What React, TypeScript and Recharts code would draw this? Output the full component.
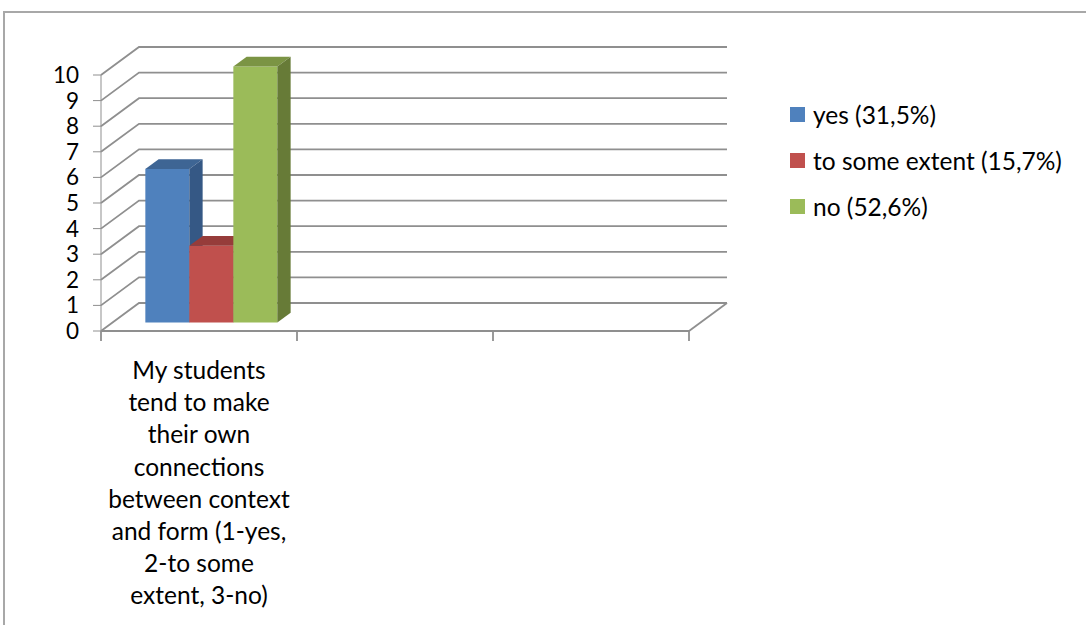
import { BarChart, Bar, XAxis, YAxis, CartesianGrid, Legend } from "recharts";

// category label lines (as wrapped in the original)
const categoryLines: string[][] = [
  [
    "My students",
    "tend to make",
    "their own",
    "connections",
    "between context",
    "and form (1-yes,",
    "2-to some",
    "extent, 3-no)",
  ],
  [],
  [],
];
const seriesNames = ["yes (31,5%)", "to some extent (15,7%)", "no (52,6%)"];
const yesValues = [6, null, null];
const someValues = [3, null, null];
const noValues = [10, null, null];
const yTicks = [0, 1, 2, 3, 4, 5, 6, 7, 8, 9, 10];

const data = categoryLines.map((lines, i) => ({
  idx: i,
  name: lines.join(" "),
  yes: yesValues[i],
  some: someValues[i],
  no: noValues[i],
}));

const W = 1086;
const H = 625;
const MARGIN = { top: 75, right: 397, bottom: 0, left: 41 };
const X_AXIS_H = 294;
const PLOT_BOTTOM = H - MARGIN.bottom - X_AXIS_H;

// depth of the 3d walls and of the bars
const DX = 38;
const DY = -28;
const BX = 12;
const BY = -8.5;
const SX = 13.3;
const SY = -9.7;

const GRID = "#8f8f8f";
const FONT = 24.5;

const GridLine = (props: any) => {
  const { x1, x2, y1 } = props;
  const floor = Math.abs(y1 - PLOT_BOTTOM) < 1;
  const n = categoryLines.length;
  const edges = Array.from({ length: n + 1 }, (_, i) => x1 + (i * (x2 - x1)) / n);
  return (
    <g key={props.key}>
      <polyline
        points={`${x1},${y1} ${x1 + DX},${y1 + DY} ${x2 + DX},${y1 + DY}`}
        fill="none"
        stroke={GRID}
        strokeWidth={1.8}
      />
      {floor && (
        <g>
          <line x1={x1} y1={y1} x2={x2} y2={y1} stroke={GRID} strokeWidth={1.8} />
          <line x1={x2} y1={y1} x2={x2 + DX} y2={y1 + DY} stroke={GRID} strokeWidth={1.8} />
          {edges.map((ex) => (
            <line key={ex} x1={ex} y1={y1} x2={ex} y2={y1 + 10} stroke={GRID} strokeWidth={1.8} />
          ))}
        </g>
      )}
    </g>
  );
};

const Bar3D = (props: any) => {
  const { x, y, width, height, fill, top, side } = props;
  if (!height) return null;
  const fx = x + BX;
  const fy = y + BY;
  return (
    <g>
      <rect x={fx} y={fy} width={width} height={height} fill={fill} />
      <polygon
        points={`${fx},${fy} ${fx + SX},${fy + SY} ${fx + width + SX},${fy + SY} ${fx + width},${fy}`}
        fill={top}
      />
      <polygon
        points={`${fx + width},${fy} ${fx + width + SX},${fy + SY} ${fx + width + SX},${fy + height + SY} ${fx + width},${fy + height}`}
        fill={side}
      />
    </g>
  );
};

const CategoryTick = (props: any) => {
  const { x, y, payload } = props;
  const lines = categoryLines[payload.value] || [];
  return (
    <text x={x} y={y + 40} textAnchor="middle" fill="#000" fontSize={FONT}>
      {lines.map((l, i) => (
        <tspan key={i} x={x} dy={i === 0 ? 0 : 32.2}>
          {l}
        </tspan>
      ))}
    </text>
  );
};

const LegendBox = (props: any) => {
  const payload = props.payload || [];
  return (
    <div style={{ fontSize: FONT, color: "#000" }}>
      {seriesNames.map((name) => {
        const item = payload.find((p: any) => p.value === name);
        return (
          <div key={name} style={{ display: "flex", alignItems: "center", height: 45.8 }}>
            <span
              style={{ width: 15, height: 15, background: item ? item.color : "#999", marginRight: 8, display: "inline-block" }}
            />
            <span>{name}</span>
          </div>
        );
      })}
    </div>
  );
};

export default function App() {
  return (
    <div style={{ position: "absolute", left: 0, top: 0, width: W, height: H, fontFamily: "Lato", background: "#fff", overflow: "hidden" }}>
      <div
        style={{
          position: "absolute",
          left: 3,
          top: 11,
          width: W + 20,
          height: H + 20,
          borderTop: "2px solid #a8a8a8",
          borderLeft: "2px solid #a8a8a8",
        }}
      />
      <BarChart
        width={W}
        height={H}
        data={data}
        margin={MARGIN}
        barCategoryGap="16.5%"
        barGap={0}
        style={{ position: "absolute", left: 0, top: 0 }}
      >
        <CartesianGrid horizontal={GridLine} vertical={false} />
        <XAxis
          dataKey="idx"
          type="category"
          height={X_AXIS_H}
          axisLine={false}
          tickLine={false}
          tick={<CategoryTick />}
          interval={0}
        />
        <YAxis
          width={60}
          domain={[0, 10]}
          ticks={yTicks}
          interval={0}
          tickSize={8}
          tickMargin={14}
          stroke={GRID}
          tick={{ fill: "#000", fontSize: 22.5 }}
        />
        <Legend
          layout="vertical"
          align="center"
          verticalAlign="middle"
          content={<LegendBox />}
          wrapperStyle={{ left: 790, top: 92, width: 296 }}
        />
        <Bar
          dataKey="yes"
          name={seriesNames[0]}
          fill="#4f81bd"
          isAnimationActive={false}
          shape={(p: any) => <Bar3D {...p} top="#3e6594" side="#355885" />}
        />
        <Bar
          dataKey="some"
          name={seriesNames[1]}
          fill="#c0504d"
          isAnimationActive={false}
          shape={(p: any) => <Bar3D {...p} top="#963c3a" side="#8c3836" />}
        />
        <Bar
          dataKey="no"
          name={seriesNames[2]}
          fill="#9bbb59"
          isAnimationActive={false}
          shape={(p: any) => <Bar3D {...p} top="#7b9444" side="#677b37" />}
        />
      </BarChart>
    </div>
  );
}
